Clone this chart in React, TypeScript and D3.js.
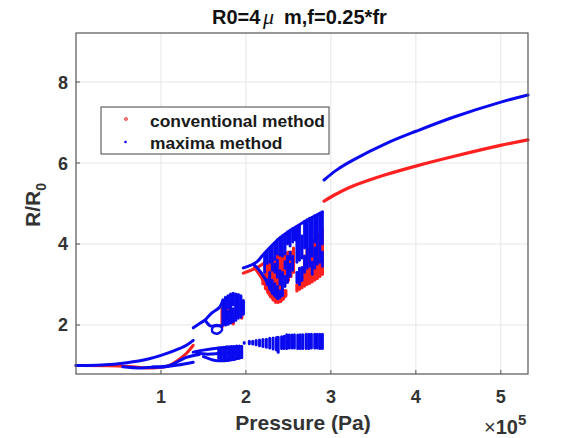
import React from "react";
import * as d3 from "d3";

type P = [number, number];
type Bar = [number, number, number];

const xTicks = [1, 2, 3, 4, 5];
const yTicks = [2, 4, 6, 8];
const legendLabels = ["conventional method", "maxima method"];

// Smooth branches, [pressure /1e5, R/R0]
const blueUpperLow: P[] = [[0, 1.0], [0.3, 1.01], [0.6, 1.07], [0.85, 1.16], [1.0, 1.25], [1.15, 1.36], [1.3, 1.5], [1.38, 1.62]];
const blueLowA: P[] = [[0.55, 0.97], [0.75, 0.94], [0.95, 0.96], [1.1, 1.0], [1.22, 1.12], [1.3, 1.2], [1.45, 1.27]];
const blueLowB: P[] = [[0.9, 0.96], [1.05, 0.97], [1.2, 1.01], [1.38, 1.08]];
const redLow: P[] = [[0, 1.0], [0.5, 0.99], [0.7, 0.96], [0.9, 0.94], [1.05, 0.97], [1.1, 1.0], [1.2, 1.13], [1.3, 1.3], [1.38, 1.5]];
const blueHigh: P[] = [[2.92, 5.58], [3.07, 5.83], [3.26, 6.07], [3.66, 6.49], [4.01, 6.79], [4.44, 7.13], [5.01, 7.51], [5.32, 7.68]];
const redHigh: P[] = [[2.92, 5.06], [3.07, 5.24], [3.26, 5.43], [3.66, 5.72], [4.01, 5.93], [4.44, 6.16], [5.01, 6.44], [5.32, 6.57]];

// Period-doubled bands
const lowBandTop: P[] = [[1.38, 1.33], [1.5, 1.38], [1.68, 1.43], [1.95, 1.47]];
const lowBandMid: P[] = [[1.42, 1.3], [1.55, 1.28], [1.7, 1.3], [1.95, 1.33]];
const lowBandBottom: P[] = [[1.5, 1.22], [1.65, 1.12], [1.8, 1.13], [1.95, 1.2]];
const midStem: P[] = [[1.38, 1.93], [1.45, 2.03], [1.52, 2.12]];
const midTopArc: P[] = [[1.52, 2.12], [1.6, 2.3], [1.69, 2.44], [1.73, 2.62]];
const midLowArc: P[] = [[1.52, 2.12], [1.58, 1.98], [1.65, 1.98], [1.72, 1.98]];
const midLoop: P[] = [[1.6, 1.9], [1.63, 1.99], [1.69, 1.98], [1.72, 1.88], [1.67, 1.79], [1.61, 1.82], [1.6, 1.9]];
const bigStemBlue: P[] = [[1.97, 3.41], [2.13, 3.56], [2.2, 3.73], [2.4, 4.15], [2.6, 4.44], [2.9, 4.79]];
const bigLoopBlue: P[] = [[2.1, 3.48], [2.17, 3.32], [2.25, 3.05], [2.32, 2.78], [2.38, 2.65]];
const bigStemRed: P[] = [[1.97, 3.28], [2.14, 3.43], [2.25, 3.58]];
const bigEdgeRed: P[] = [[2.1, 3.42], [2.2, 3.11], [2.28, 2.74], [2.38, 2.57], [2.46, 2.7]];

// Scatter regions as vertical runs of maxima: [pressure, low, high]
const midBlueRuns: Bar[] = [[1.73, 2.02, 2.6], [1.76, 2.0, 2.68], [1.79, 2.02, 2.34], [1.79, 2.42, 2.72], [1.82, 2.05, 2.76], [1.85, 2.08, 2.4], [1.85, 2.5, 2.78], [1.88, 2.12, 2.76], [1.91, 2.17, 2.75], [1.94, 2.2, 2.72], [1.97, 2.27, 2.6]];
const midRedRuns: Bar[] = [[1.72, 1.96, 2.4], [1.8, 2.36, 2.46], [1.85, 2.03, 2.1], [1.95, 2.17, 2.3]];
const lowBlueRuns: Bar[] = [[1.68, 1.18, 1.43], [1.71, 1.14, 1.44], [1.74, 1.13, 1.45], [1.77, 1.13, 1.46], [1.8, 1.14, 1.46], [1.83, 1.15, 1.47], [1.86, 1.15, 1.47], [1.89, 1.17, 1.48], [1.92, 1.18, 1.48], [1.95, 1.2, 1.47]];
const lowerRightRuns: Bar[] = [[1.98, 1.55, 1.57], [2.04, 1.54, 1.6], [2.08, 1.53, 1.6], [2.12, 1.51, 1.62], [2.16, 1.49, 1.63], [2.2, 1.47, 1.64], [2.24, 1.45, 1.65], [2.28, 1.43, 1.67], [2.32, 1.41, 1.68], [2.36, 1.38, 1.69], [2.38, 1.33, 1.7], [2.42, 1.42, 1.71], [2.45, 1.42, 1.72], [2.48, 1.42, 1.76], [2.51, 1.43, 1.75], [2.54, 1.43, 1.75], [2.57, 1.43, 1.76], [2.61, 1.42, 1.75], [2.64, 1.42, 1.76], [2.67, 1.42, 1.76], [2.71, 1.42, 1.77], [2.74, 1.42, 1.77], [2.77, 1.43, 1.77], [2.81, 1.43, 1.77], [2.84, 1.43, 1.77], [2.87, 1.42, 1.77], [2.9, 1.42, 1.77]];
const bigRedRuns: Bar[] = [[2.2, 3.02, 3.2], [2.23, 2.9, 3.5], [2.26, 2.8, 3.55], [2.29, 2.7, 3.6], [2.32, 2.62, 3.62], [2.35, 2.56, 3.72], [2.38, 2.56, 3.75], [2.41, 2.58, 3.72], [2.44, 2.64, 2.86], [2.44, 3.2, 3.72], [2.47, 2.72, 2.85], [2.47, 3.05, 3.78], [2.5, 3.1, 3.8], [2.53, 3.2, 3.8], [2.56, 3.3, 3.9], [2.6, 2.84, 3.0], [2.63, 2.88, 3.05], [2.66, 2.92, 3.1], [2.69, 2.96, 3.7], [2.72, 3.0, 3.85], [2.75, 3.03, 3.9], [2.78, 3.07, 4.0], [2.81, 3.11, 4.1], [2.84, 3.15, 4.15], [2.87, 3.2, 4.25], [2.9, 3.25, 4.35]];
const bigBlueRuns: Bar[] = [[2.22, 3.3, 3.73], [2.25, 3.0, 3.12], [2.25, 3.52, 3.8], [2.28, 2.88, 3.3], [2.28, 3.55, 3.88], [2.31, 2.78, 3.1], [2.31, 3.35, 3.96], [2.34, 2.72, 3.02], [2.34, 3.3, 3.5], [2.34, 3.62, 4.02], [2.37, 2.66, 2.95], [2.37, 3.18, 3.6], [2.37, 3.75, 4.1], [2.4, 2.68, 2.84], [2.4, 3.0, 3.34], [2.4, 3.72, 4.15], [2.43, 2.72, 3.3], [2.43, 3.7, 4.2], [2.46, 2.95, 3.2], [2.46, 3.4, 3.56], [2.46, 3.75, 4.24], [2.49, 3.05, 3.7], [2.49, 4.0, 4.3], [2.52, 3.2, 3.5], [2.52, 3.62, 3.8], [2.52, 3.95, 4.34], [2.55, 3.35, 3.7], [2.55, 4.05, 4.38], [2.58, 4.1, 4.4], [2.6, 3.05, 3.3], [2.6, 3.55, 4.42], [2.63, 3.0, 3.4], [2.63, 3.6, 4.46], [2.66, 3.1, 3.42], [2.66, 3.65, 4.2], [2.69, 3.3, 3.7], [2.69, 3.9, 4.56], [2.72, 3.4, 4.6], [2.75, 3.45, 4.64], [2.78, 3.25, 3.55], [2.78, 3.7, 4.66], [2.81, 3.4, 3.9], [2.81, 4.05, 4.7], [2.84, 3.5, 4.72], [2.87, 3.55, 4.76], [2.9, 3.45, 3.8], [2.9, 4.0, 4.79]];

const W = 584, H = 438;
const L = 76, R = 528, T = 33, B = 374;
const x = d3.scaleLinear().domain([0, 5.32]).range([L, R]);
const y = d3.scaleLinear().domain([0.79, 9.21]).range([B, T]);
const line = d3.line<P>().x((d) => x(d[0])).y((d) => y(d[1])).curve(d3.curveCatmullRom);
const lineLoop = d3.line<P>().x((d) => x(d[0])).y((d) => y(d[1])).curve(d3.curveCardinal);

const RED = "#ff2020";
const BLUE = "#0a0af0";
const AX = "#555";
const TXT = "#333";
const FF = "'Liberation Sans', Arial, sans-serif";

function Branch({ d, c, w = 3, loop = false }: { d: P[]; c: string; w?: number; loop?: boolean }) {
  return <path d={(loop ? lineLoop : line)(d) ?? ""} fill="none" stroke={c} strokeWidth={w} strokeLinecap="round" />;
}
function Runs({ d, c, w = 3 }: { d: Bar[]; c: string; w?: number }) {
  return (
    <g stroke={c} strokeWidth={w} strokeLinecap="round">
      {d.map((r, i) => (
        <line key={i} x1={x(r[0])} x2={x(r[0])} y1={y(r[1])} y2={y(r[2])} />
      ))}
    </g>
  );
}

export default function App() {
  return (
    <svg width={W} height={H} viewBox={`0 0 ${W} ${H}`} style={{ position: "absolute", left: 0, top: 0, background: "#fff" }} fontFamily={FF}>
      <g stroke="#e6e6e6" strokeWidth={1}>
        {xTicks.map((t) => <line key={t} x1={x(t)} x2={x(t)} y1={T} y2={B} />)}
        {yTicks.map((t) => <line key={t} x1={L} x2={R} y1={y(t)} y2={y(t)} />)}
      </g>

      <Branch d={redLow} c={RED} />
      <Branch d={redHigh} c={RED} w={3.2} />
      <Branch d={bigStemRed} c={RED} />
      <Branch d={bigEdgeRed} c={RED} />
      <Runs d={midRedRuns} c={RED} w={3.4} />
      <Runs d={bigRedRuns} c={RED} w={3.2} />

      <Branch d={blueUpperLow} c={BLUE} />
      <Branch d={blueLowA} c={BLUE} />
      <Branch d={blueLowB} c={BLUE} />
      <Branch d={blueHigh} c={BLUE} />
      <Branch d={lowBandTop} c={BLUE} />
      <Branch d={lowBandMid} c={BLUE} />
      <Branch d={lowBandBottom} c={BLUE} />
      <Branch d={midStem} c={BLUE} />
      <Branch d={midTopArc} c={BLUE} />
      <Branch d={midLowArc} c={BLUE} />
      <Branch d={midLoop} c={BLUE} w={2.4} loop />
      <Branch d={bigStemBlue} c={BLUE} />
      <Branch d={bigLoopBlue} c={BLUE} />
      <Runs d={midBlueRuns} c={BLUE} w={3.2} />
      <Runs d={lowBlueRuns} c={BLUE} w={3} />
      <Runs d={lowerRightRuns} c={BLUE} w={3} />
      <Runs d={bigBlueRuns} c={BLUE} w={2.9} />

      <rect x={L} y={T} width={R - L} height={B - T} fill="none" stroke={AX} strokeWidth={1.2} />
      <g stroke={AX} strokeWidth={1}>
        {xTicks.map((t) => <line key={t} x1={x(t)} x2={x(t)} y1={B} y2={B - 4} />)}
        {yTicks.map((t) => <line key={t} x1={L} x2={L + 4} y1={y(t)} y2={y(t)} />)}
      </g>
      <g fontWeight="bold" fontSize={18} fill={TXT}>
        {xTicks.map((t) => <text key={t} x={x(t)} y={403} textAnchor="middle">{t}</text>)}
        {yTicks.map((t) => <text key={t} x={68} y={y(t) + 6.5} textAnchor="end">{t}</text>)}
      </g>

      <text x={212} y={24} fontWeight="bold" fontSize={20} fill="#111">
        R0=4<tspan x={263} fontFamily="'Liberation Serif', serif" fontStyle="italic" fontWeight="normal" fontSize={22}>μ</tspan><tspan x={284}>m,f=0.25*fr</tspan>
      </text>
      <text x={303} y={430} textAnchor="middle" fontWeight="bold" fontSize={21} fill={TXT}>Pressure (Pa)</text>
      <text transform="translate(40,227) rotate(-90)" fontWeight="bold" fontSize={21} fill={TXT}>
        R/R<tspan fontSize={14} dy={6}>0</tspan>
      </text>
      <text x={484} y={434} fontSize={20} fill={TXT}>
        ×<tspan fontWeight="bold">10</tspan><tspan fontWeight="bold" fontSize={15} dy={-9}>5</tspan>
      </text>

      <rect x={101} y={107} width={228} height={47} fill="#fff" stroke="#444" strokeWidth={1} />
      <circle cx={126} cy={119} r={1.5} fill="#ff9090" stroke={RED} strokeWidth={0.7} />
      <circle cx={125.5} cy={142} r={1.3} fill={BLUE} />
      <g fontWeight="bold" fontSize={17.4} fill="#1a1a1a">
        {legendLabels.map((l, i) => <text key={l} x={150} y={127 + i * 22}>{l}</text>)}
      </g>
    </svg>
  );
}
